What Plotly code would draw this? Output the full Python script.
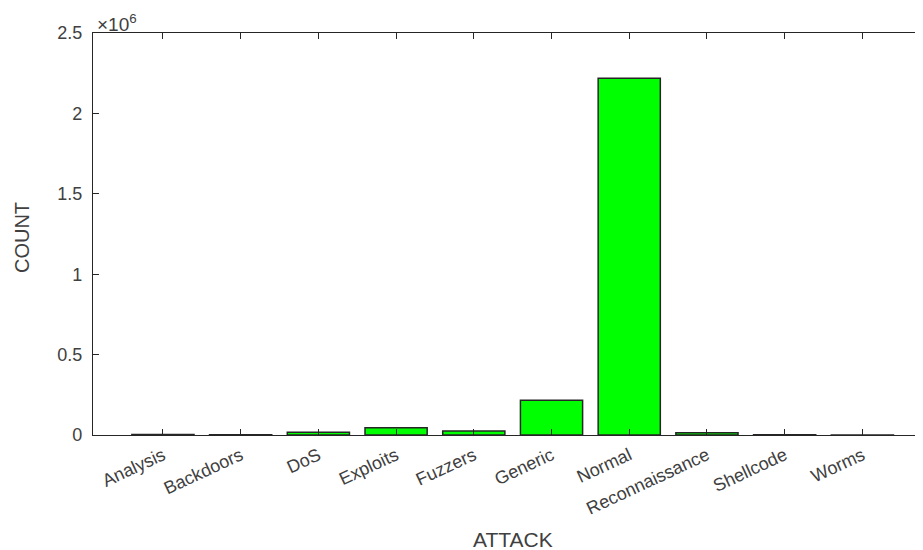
import plotly.graph_objects as go

categories = ["Analysis", "Backdoors", "DoS", "Exploits", "Fuzzers", "Generic",
              "Normal", "Reconnaissance", "Shellcode", "Worms"]
counts = [2677, 2329, 16353, 44525, 24246, 215481, 2218761, 13987, 1511, 174]
ytick_vals = [0, 0.5e6, 1.0e6, 1.5e6, 2.0e6, 2.5e6]
ytick_text = ["0", "0.5", "1", "1.5", "2", "2.5"]
x_title = "ATTACK"
y_title = "COUNT"

positions = list(range(1, len(categories) + 1))
txt = "#404040"
axc = "#262626"

fig = go.Figure(go.Bar(
    x=positions, y=counts, width=0.8,
    marker=dict(color="#00FF00", line=dict(color=axc, width=1.5)),
))

fig.update_layout(
    width=915, height=542,
    margin=dict(l=85, r=0, t=25, b=115),
    paper_bgcolor="white", plot_bgcolor="white",
    font=dict(family="Liberation Sans, Arial, sans-serif", size=18, color=txt),
    showlegend=False,
    xaxis=dict(
        range=[0.1, 10.78], tickvals=positions, ticktext=categories,
        tickangle=-25, ticks="inside", ticklen=6, tickcolor=axc,
        tickfont=dict(size=18, color=txt), ticklabelstandoff=2,
        showline=True, linecolor=axc, linewidth=1.2, mirror="ticks",
        showgrid=False, zeroline=False, automargin=False,
    ),
    yaxis=dict(
        range=[0, 2.5e6], tickvals=ytick_vals, ticktext=ytick_text,
        ticks="inside", ticklen=6, tickcolor=axc,
        tickfont=dict(size=18, color=txt), ticklabelstandoff=6,
        showline=True, linecolor=axc, linewidth=1.2, mirror=False,
        showgrid=False, zeroline=False, automargin=False,
    ),
    annotations=[
        dict(text="×10<sup>6</sup>", xref="paper", yref="paper", x=0, y=1,
             xanchor="left", yanchor="bottom", showarrow=False, xshift=2, yshift=-4,
             font=dict(size=19, color=txt)),
        dict(text=x_title, xref="paper", yref="paper", x=0.506, y=0,
             xanchor="center", yanchor="middle", showarrow=False, yshift=-104,
             font=dict(size=21, color=txt)),
        dict(text=y_title, xref="paper", yref="paper", x=0, y=0.49,
             xanchor="center", yanchor="middle", showarrow=False, xshift=-71,
             textangle=-90, font=dict(size=20, color=txt)),
    ],
)

fig.write_html("out.html")
